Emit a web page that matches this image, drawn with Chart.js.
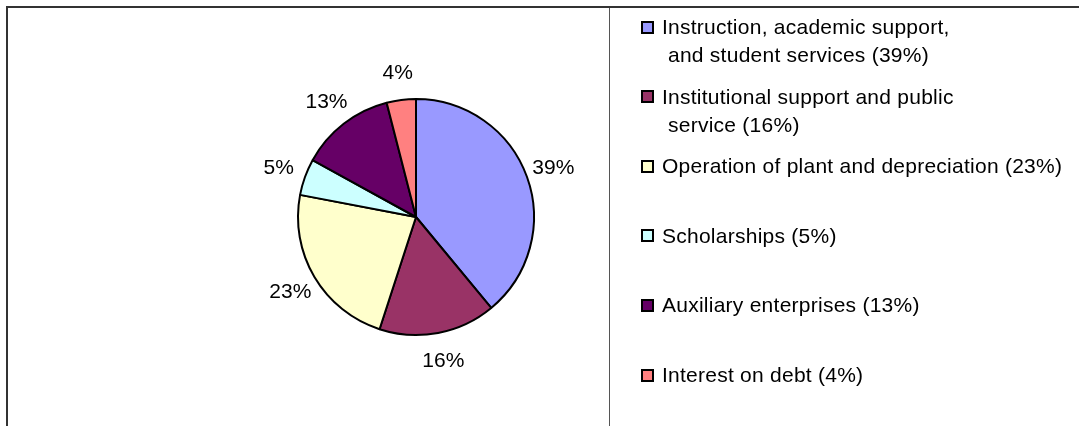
<!DOCTYPE html>
<html>
<head>
<meta charset="utf-8">
<script src="https://cdn.jsdelivr.net/npm/chart.js@4/dist/chart.umd.min.js"></script>
<style>
    html, body { margin: 0; padding: 0; background: #fff; }
    body { width: 1079px; height: 426px; position: relative; overflow: hidden;
           font-family: "Liberation Sans", Arial, sans-serif; color: #000; }
    #frame { position: absolute; left: 6px; top: 6px; width: 1200px; height: 600px;
             border-left: 2px solid #333; border-top: 2px solid #333; }
    #divider { position: absolute; left: 609px; top: 8px; width: 1px; height: 430px; background: #555; }
    #chart { position: absolute; left: 0; top: 0; }
    .legend-box { position: absolute; left: 641px; width: 9px; height: 9px;
                  border: 2px solid #000; }
    .legend-line { position: absolute; white-space: nowrap; font-size: 21px;
                   letter-spacing: 0.25px; line-height: 28px; }
</style>
</head>
<body>
<div id="frame"></div>
<div id="divider"></div>
<canvas id="chart" width="1079" height="426"></canvas>
<div id="legend"></div>
<script>
// Expense categories (line breaks as in the legend)
const categories = [
    'Instruction, academic support,\nand student services',
    'Institutional support and public\nservice',
    'Operation of plant and depreciation',
    'Scholarships',
    'Auxiliary enterprises',
    'Interest on debt'
];
const shares = [39, 16, 23, 5, 13, 4];
const colors = ['#9999FF', '#993366', '#FFFFCC', '#CCFFFF', '#660066', '#FF8080'];

// Percentage labels outside each slice
const outsideLabels = {
    id: 'outsideLabels',
    afterDatasetsDraw(chart) {
        const ctx = chart.ctx;
        const meta = chart.getDatasetMeta(0);
        const values = chart.data.datasets[0].data;
        ctx.save();
        ctx.font = '21px "Liberation Sans", Arial, sans-serif';
        ctx.fillStyle = '#000';
        ctx.textAlign = 'center';
        ctx.textBaseline = 'middle';
        meta.data.forEach((arc, i) => {
            const p = arc.getProps(['x', 'y', 'startAngle', 'endAngle', 'outerRadius'], true);
            const mid = (p.startAngle + p.endAngle) / 2;
            const d = p.outerRadius + 28;
            ctx.fillText(values[i] + '%', p.x + Math.cos(mid) * d, p.y + Math.sin(mid) * d + 1);
        });
        ctx.restore();
    }
};

const initializeChart = () => {
    const ctx = document.getElementById('chart');
    return new Chart(ctx.getContext('2d'), {
        type: 'pie',
        data: {
            labels: categories,
            datasets: [{
                data: shares,
                backgroundColor: colors,
                borderColor: '#000',
                borderWidth: 2
            }]
        },
        options: {
            responsive: false,
            animation: false,
            events: [],
            layout: {
                padding: { left: 297, right: 544, top: 98, bottom: 90 }
            },
            plugins: {
                legend: { display: false },
                tooltip: { enabled: false }
            }
        },
        plugins: [outsideLabels]
    });
};

// Legend built from the same arrays
const buildLegend = () => {
    const legend = document.getElementById('legend');
    categories.forEach((cat, i) => {
        const lines = (cat + ' (' + shares[i] + '%)').split('\n');
        const top = 27 + i * 69.6;
        const box = document.createElement('div');
        box.className = 'legend-box';
        box.style.top = (top - 6.5) + 'px';
        box.style.background = colors[i];
        legend.appendChild(box);
        lines.forEach((line, j) => {
            const el = document.createElement('div');
            el.className = 'legend-line';
            el.textContent = line;
            el.style.left = (j === 0 ? 662 : 668) + 'px';
            el.style.top = (top - 14 + j * 28) + 'px';
            legend.appendChild(el);
        });
    });
};

document.addEventListener('DOMContentLoaded', () => {
    initializeChart();
    buildLegend();
});
</script>
</body>
</html>
